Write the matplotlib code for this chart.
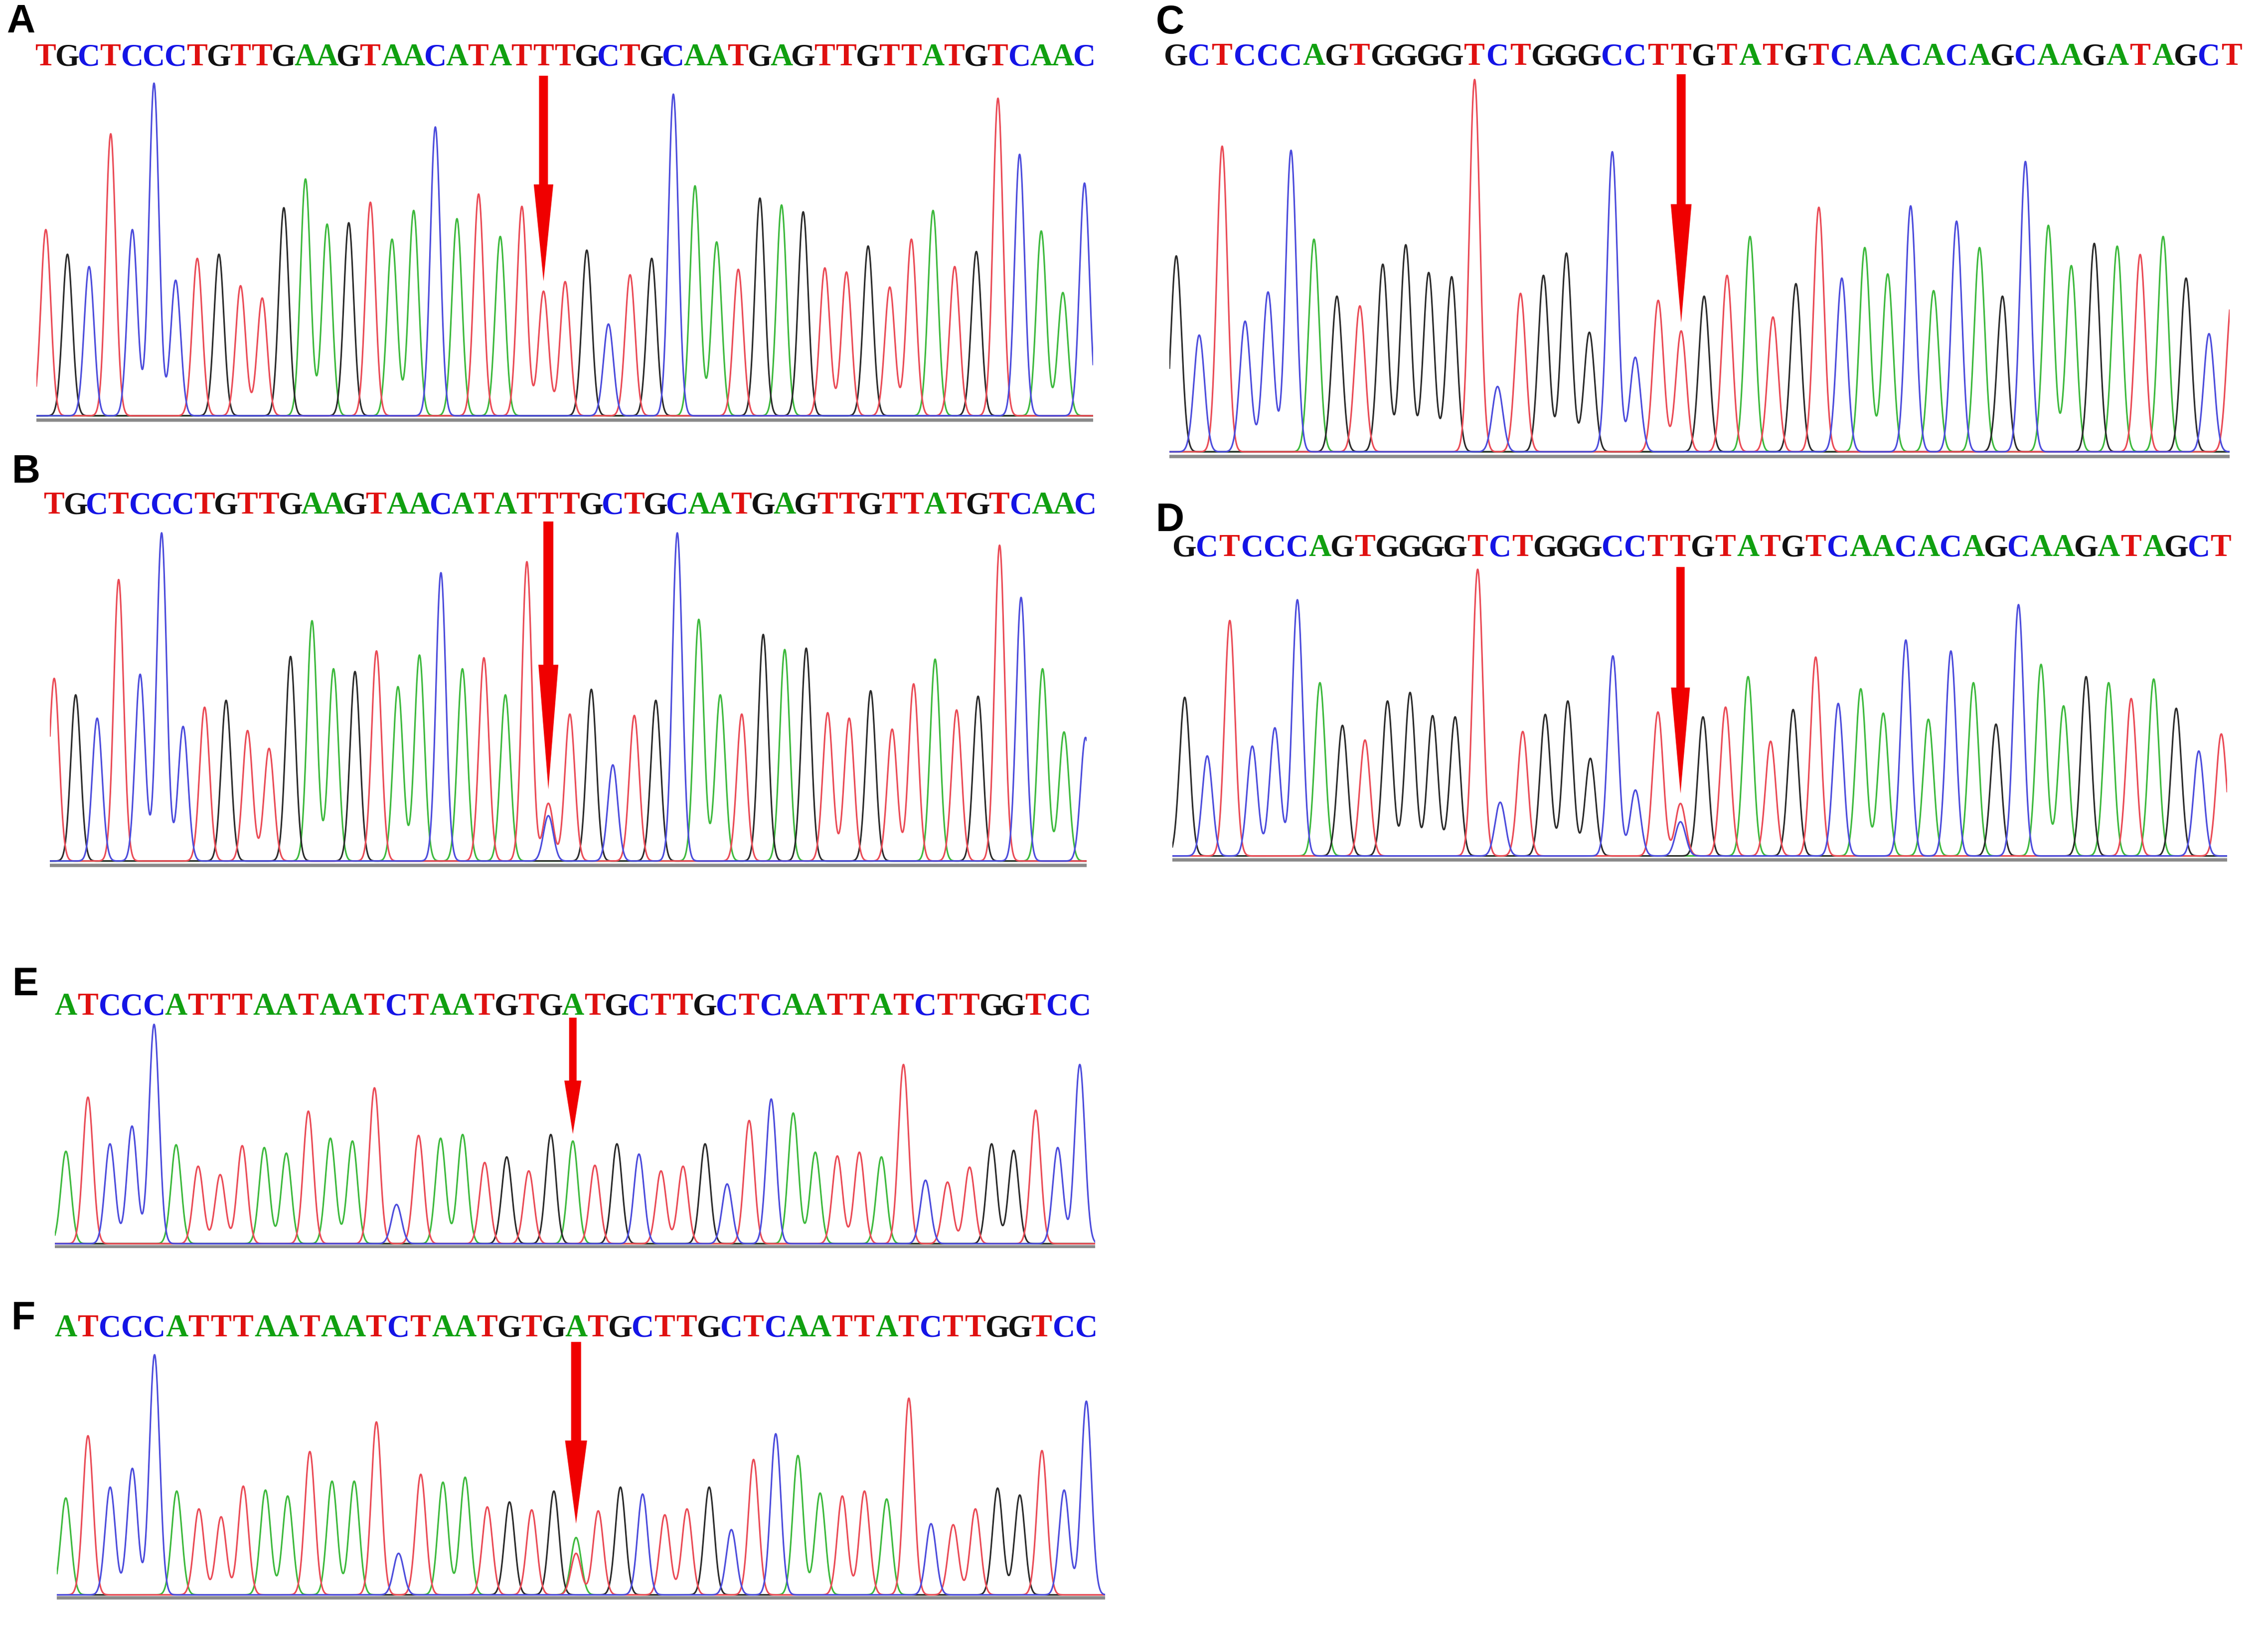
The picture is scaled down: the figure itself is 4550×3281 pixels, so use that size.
import numpy as np
import matplotlib.pyplot as plt
from matplotlib.transforms import blended_transform_factory

# base calls printed above each trace
seq_ab = "TGCTCCCTGTTGAAGTAACATATTTGCTGCAATGAGTTGTTATGTCAAC"
seq_cd = "GCTCCCAGTGGGGTCTGGGCCTTGTATGTCAACACAGCAAGATAGCT"
seq_ef = "ATCCCATTTAATAATCTAATGTGATGCTTGCTCAATTATCTTGGTCC"

# peak heights (arbitrary signal units), one per base
heights_a = [680, 590, 545, 1030, 680, 1215, 495, 575, 590, 475,
             430, 760, 865, 700, 705, 780, 645, 750, 1055, 720,
             810, 655, 765, 455, 490, 605, 335, 515, 575, 1175,
             840, 635, 535, 795, 770, 745, 540, 525, 620, 470,
             645, 750, 545, 600, 1160, 955, 675, 450, 850]
heights_b = [665, 605, 520, 1025, 680, 1195, 490, 560, 585, 475,
             410, 745, 875, 700, 690, 765, 635, 750, 1050, 700,
             740, 605, 1090, 210, 535, 625, 350, 530, 585, 1195,
             880, 605, 535, 825, 770, 775, 540, 520, 620, 480,
             645, 735, 550, 600, 1150, 960, 700, 470, 450]
heights_c = [705, 420, 1100, 470, 575, 1085, 765, 560, 525, 675,
             745, 645, 630, 1340, 235, 570, 635, 715, 430, 1080,
             340, 545, 435, 560, 635, 775, 485, 605, 880, 625,
             735, 640, 885, 580, 830, 735, 560, 1045, 815, 670,
             750, 740, 710, 775, 625, 425, 560]
heights_d = [650, 410, 965, 450, 525, 1050, 710, 535, 475, 635,
             670, 575, 570, 1175, 220, 510, 580, 635, 400, 820,
             270, 590, 215, 570, 610, 735, 470, 600, 815, 625,
             685, 585, 885, 560, 840, 710, 540, 1030, 785, 615,
             735, 710, 645, 725, 605, 430, 500]
heights_e = [495, 785, 535, 630, 1175, 530, 415, 370, 525, 515,
             485, 710, 565, 550, 835, 210, 580, 565, 585, 435,
             465, 390, 585, 550, 420, 535, 480, 390, 415, 535,
             320, 660, 775, 700, 490, 470, 490, 465, 960, 340,
             330, 410, 535, 500, 715, 515, 960]
heights_f = [490, 805, 545, 640, 1215, 525, 435, 395, 550, 530,
             500, 725, 575, 575, 875, 210, 610, 570, 595, 445,
             470, 430, 525, 290, 425, 545, 510, 405, 435, 545,
             330, 685, 815, 705, 515, 500, 525, 485, 995, 360,
             355, 435, 540, 505, 730, 530, 980]

# second (overlapping) peaks at the heterozygous positions: (base index, base, height)
extra_b = [(23, 'C', 165)]
extra_d = [(22, 'C', 140)]
extra_f = [(23, 'T', 210)]

# base index marked by the red arrow
arrow_ab = 23
arrow_cd = 22
arrow_ef = 23

trace_colors = {'A': '#3cb93c', 'C': '#4b4bdc', 'G': '#2a2a2a', 'T': '#ea4a55'}
text_colors = {'A': '#10a010', 'C': '#1414e6', 'G': '#111111', 'T': '#e01010'}
SIG = 0.23

W, H = 4550, 3281
fig = plt.figure(figsize=(W / 300, H / 300), dpi=300)
fig.patch.set_facecolor('white')

# rect (fig fraction), xlim in base units, letters y, label pos, arrow top (axes frac),
# arrow head length / head width / tail width (pt), gap above peak (pt)
panels = [
    dict(label='A', seq=seq_ab, h=heights_a, extra=[], arrow=arrow_ab,
         rect=[0.0160, 0.7418, 0.4660, 0.2094], xlim=(-0.44, 48.4),
         ly=0.9646, lab=(0.0092, 0.9863), top=1.012, head=(46.6, 9.4, 4.3), gap=4.8),
    dict(label='B', seq=seq_ab, h=heights_b, extra=extra_b, arrow=arrow_ab,
         rect=[0.0220, 0.4697, 0.4571, 0.2066], xlim=(-0.2, 48.05),
         ly=0.6906, lab=(0.0116, 0.7111), top=1.024, head=(60.0, 9.6, 4.8), gap=6.7),
    dict(label='C', seq=seq_cd, h=heights_c, extra=[], arrow=arrow_cd,
         rect=[0.5156, 0.7193, 0.4675, 0.2344], xlim=(-0.3, 45.9),
         ly=0.9649, lab=(0.5160, 0.9857), top=1.004, head=(57.0, 10.0, 4.3), gap=4.0),
    dict(label='D', seq=seq_cd, h=heights_d, extra=extra_d, arrow=arrow_cd,
         rect=[0.5169, 0.4733, 0.4651, 0.1805], xlim=(-0.55, 46.26),
         ly=0.6647, lab=(0.5160, 0.6815), top=0.998, head=(51.0, 9.1, 4.0), gap=4.8),
    dict(label='E', seq=seq_ef, h=heights_e, extra=[], arrow=arrow_ef,
         rect=[0.0242, 0.2371, 0.4587, 0.1381], xlim=(-0.5, 46.7),
         ly=0.3843, lab=(0.0112, 0.3980), top=1.02, head=(25.7, 8.2, 3.6), gap=3.4),
    dict(label='F', seq=seq_ef, h=heights_f, extra=extra_f, arrow=arrow_ef,
         rect=[0.0251, 0.0222, 0.4622, 0.1512], xlim=(-0.4, 46.85),
         ly=0.1877, lab=(0.0103, 0.1938), top=1.042, head=(40.0, 10.6, 4.8), gap=6.7),
]

for p in panels:
    ax = fig.add_axes(p['rect'])
    ax.set_axis_off()
    seq, h = p['seq'], np.array(p['h'], dtype=float)
    scale = h.max()
    x = np.linspace(p['xlim'][0], p['xlim'][1], 4000)

    ax.axhline(-0.012, color='#8a8a8a', lw=1.6, zorder=1)
    for base in ['A', 'G', 'T', 'C']:
        y = np.zeros_like(x)
        for i, (b, v) in enumerate(zip(seq, h)):
            if b == base:
                y += v / scale * np.exp(-0.5 * ((x - i) / SIG) ** 2)
        for i, b, v in p['extra']:
            if b == base:
                y += v / scale * np.exp(-0.5 * ((x - i) / SIG) ** 2)
        ax.plot(x, y, color=trace_colors[base], lw=0.75, zorder=2)
    ax.set_xlim(*p['xlim'])
    ax.set_ylim(-0.02, 1.01)

    # base calls
    tr = blended_transform_factory(ax.transData, fig.transFigure)
    for i, b in enumerate(seq):
        ax.text(i, p['ly'], b, transform=tr, ha='center', va='center',
                fontsize=15, fontweight='bold', family='Liberation Serif',
                color=text_colors[b], clip_on=False)

    # red arrow at the mutation site
    k = p['arrow']
    hl, hw, tw = p['head']
    ax.annotate('', xy=(k, h[k] / scale), xycoords='data',
                xytext=(k, p['top']), textcoords=('data', 'axes fraction'),
                arrowprops=dict(arrowstyle=f'simple,head_length={hl},head_width={hw},tail_width={tw}',
                                color='#f00000', lw=0, shrinkA=0, shrinkB=p['gap'],
                                mutation_scale=1),
                annotation_clip=False, zorder=5)

    fig.text(p['lab'][0], p['lab'][1], p['label'], ha='center', va='center',
             fontsize=19, fontweight='bold', family='Liberation Sans')

fig.savefig('out.png', dpi=300, facecolor='white')
